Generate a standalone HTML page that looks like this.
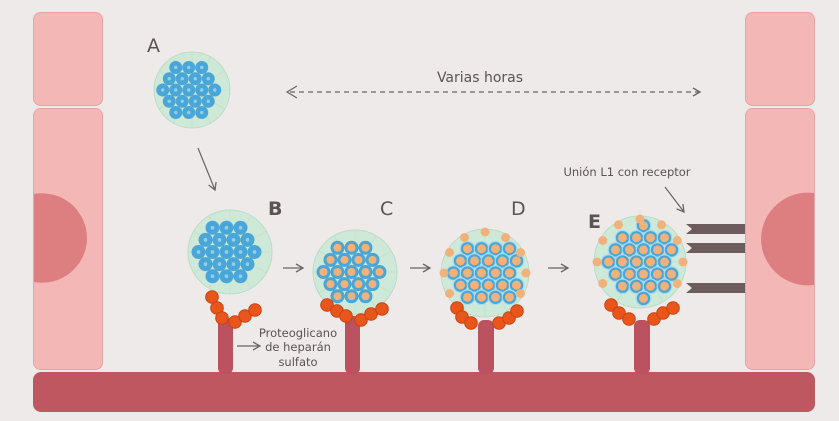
<!DOCTYPE html>
<html><head><meta charset="utf-8"><style>
html,body{margin:0;padding:0;background:#eeeae9;}
svg{display:block;font-family:"DejaVu Sans","Liberation Sans",sans-serif;}
</style></head><body>
<svg id="s" width="839" height="421" viewBox="0 0 839 421" xmlns="http://www.w3.org/2000/svg">
<defs>
<marker id="ah" markerWidth="10" markerHeight="10" refX="8" refY="5" orient="auto" markerUnits="userSpaceOnUse"><path d="M1,1 L8,5 L1,9" fill="none" stroke="#666" stroke-width="1.3"/></marker>
</defs>
<rect width="839" height="421" fill="#eeeae9"/>
<!-- left cell -->
<rect x="33.5" y="12.5" width="69" height="93" rx="7" fill="#f3b8b6" stroke="#e7a3a2"/>
<rect x="33.5" y="108.5" width="69" height="261" rx="7" fill="#f3b8b6" stroke="#e7a3a2"/>
<path d="M34,194 A45,45 0 0 1 87,238 A45,45 0 0 1 34,282 Z" fill="#dd7e80"/>
<!-- right cell -->
<rect x="745.5" y="12.5" width="69" height="93" rx="7" fill="#f3b8b6" stroke="#e7a3a2"/>
<rect x="745.5" y="108.5" width="69" height="261" rx="7" fill="#f3b8b6" stroke="#e7a3a2"/>
<path d="M814,193 A47,47 0 0 0 761,239 A47,47 0 0 0 814,285 Z" fill="#dd7e80"/>
<!-- bottom bar -->
<rect x="33" y="372" width="782" height="40" rx="8" fill="#bf5760"/>
<!-- receptors -->
<g fill="#6c5c5e">
<path d="M686,224 L745,224 L745,234 L686,234 L692,229 Z"/>
<path d="M686,243 L745,243 L745,253 L686,253 L692,248 Z"/>
<path d="M686,283 L745,283 L745,293 L686,293 L692,288 Z"/>
</g>
<!-- stems -->
<g fill="#bb5260">
<rect x="218" y="318" width="15" height="56" rx="6"/>
<rect x="345" y="316" width="15" height="58" rx="6"/>
<rect x="478" y="320" width="16" height="54" rx="6"/>
<rect x="634" y="320" width="16" height="54" rx="6"/>
</g>
<g id="cells"></g>
<g id="beads" fill="#e8561c" stroke="#c9420f" stroke-width="1"></g>
<!-- labels -->
<g fill="#5a5455" font-size="19">
<text x="147" y="52">A</text>
<text x="268" y="215" font-weight="bold">B</text>
<text x="380" y="215">C</text>
<text x="511" y="215">D</text>
<text x="588" y="228" font-weight="bold">E</text>
</g>
<g fill="#5a5455" font-size="14">
<text x="480" y="82" text-anchor="middle">Varias horas</text>
</g>
<g fill="#5a5455" font-size="11.5" text-anchor="middle">
<text x="627" y="176">Unión L1 con receptor</text>
<text x="298" y="337">Proteoglicano</text>
<text x="298" y="351">de heparán</text>
<text x="298" y="366">sulfato</text>
</g>
<!-- arrows -->
<g stroke="#666" stroke-width="1.2" fill="none">
<line x1="290" y1="92" x2="700" y2="92" stroke-dasharray="5,4" marker-end="url(#ah)"/>
<path d="M297,86 L287,92 L297,98"/>
<line x1="198" y1="148" x2="215" y2="190" marker-end="url(#ah)"/>
<line x1="665" y1="187" x2="684" y2="212" marker-end="url(#ah)"/>
<line x1="283" y1="268" x2="303" y2="268" marker-end="url(#ah)"/>
<line x1="410" y1="268" x2="430" y2="268" marker-end="url(#ah)"/>
<line x1="548" y1="268" x2="568" y2="268" marker-end="url(#ah)"/>
<line x1="237" y1="346" x2="260" y2="346" marker-end="url(#ah)"/>
</g>
</svg>
<script>
var NS="http://www.w3.org/2000/svg";
function el(t,a,p){var e=document.createElementNS(NS,t);for(var k in a)e.setAttribute(k,a[k]);p.appendChild(e);return e;}
var g=document.getElementById("cells");
function cell(cx,cy,r,sp,stage){
  el("circle",{cx:cx,cy:cy,r:r,fill:"#cfe9d8",stroke:"#b9dcc5","stroke-width":1},g);
  for(var a=0;a<360;a+=30){var x=cx+r*Math.cos(a*Math.PI/180),y=cy+r*Math.sin(a*Math.PI/180);
    el("line",{x1:cx,y1:cy,x2:x,y2:y,stroke:"#bfe0cb","stroke-width":0.8},g);}
  var h=sp*0.866;
  for(var j=-4;j<=4;j++)for(var i=-4;i<=4;i++){
    var x=cx+i*sp+(j%2?sp/2:0)-sp/4,y=cy+j*h;
    if(Math.hypot(x-cx,y-cy)>r-sp*0.6)continue;
    el("circle",{cx:x,cy:y,r:sp*0.5,fill:"#4aa6d6"},g);
    if(stage==0){el("circle",{cx:x,cy:y,r:sp*0.13,fill:"#8fd0ee"},g);}
    else{el("circle",{cx:x,cy:y,r:sp*(stage==1?0.29:0.32),fill:"#f0b27a"},g);
      if(stage>=2)el("circle",{cx:x,cy:y,r:sp*0.52,fill:"none",stroke:"#a9dbee","stroke-width":1.2},g);}
  }
  if(stage>=2){for(var a=0;a<360;a+=30){var x=cx+(r-3)*Math.cos(a*Math.PI/180),y=cy+(r-3)*Math.sin(a*Math.PI/180);
    if(y>cy+r*0.6)continue;
    el("circle",{cx:x,cy:y,r:4.5,fill:"#f0b27a"},g);}}
}
cell(192,90,38,13,0);
cell(230,252,42,14,0);
cell(355,272,42,14,1);
cell(485,273,44,14,2);
cell(640,262,46,14,2);
var b=document.getElementById("beads");
[[212,297],[217,308],[222,318],[235,322],[245,316],[255,310],
 [327,305],[337,311],[346,316],[361,320],[371,314],[382,309],
 [457,308],[462,317],[471,323],[499,323],[509,318],[517,311],
 [611,305],[619,313],[629,319],[654,319],[663,313],[673,308]].forEach(function(p){
  el("circle",{cx:p[0],cy:p[1],r:6.3},b);});
</script>
</body></html>
